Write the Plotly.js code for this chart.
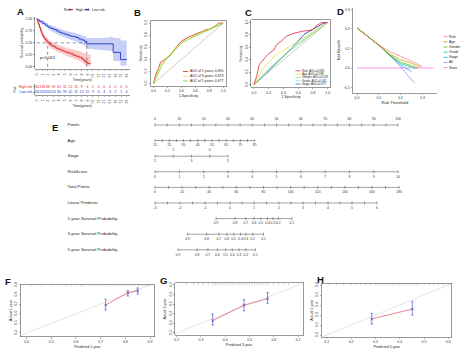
<!DOCTYPE html>
<html><head><meta charset="utf-8">
<script src="https://cdn.plot.ly/plotly-3.0.1.min.js"></script>
<style>html,body{margin:0;padding:0;background:#fff}#chart{width:474px;height:357px}</style>
</head><body><div id="chart"></div>
<script>
// ================= DATA =================
// Panel A: Kaplan-Meier
const kmTimeHigh  = [0,0.1,0.2,0.3,0.5,0.7,0.9,1.1,1.3,1.5,1.7,2.0,2.3,2.6,3.0,3.4,3.8,4.2,4.6,5.0,5.5,6.0,6.5,7.0,7.5,8.0,8.3,8.6,9.0,9.6];
const kmSurvHigh  = [1.00,0.97,0.93,0.89,0.82,0.75,0.69,0.64,0.60,0.57,0.54,0.50,0.47,0.44,0.42,0.39,0.37,0.35,0.33,0.31,0.29,0.27,0.24,0.22,0.20,0.17,0.14,0.10,0.07,0.07];
const kmUpperHigh = [1.00,0.99,0.96,0.93,0.87,0.81,0.75,0.70,0.67,0.64,0.61,0.57,0.54,0.51,0.49,0.47,0.45,0.44,0.42,0.40,0.38,0.37,0.35,0.34,0.32,0.30,0.28,0.26,0.25,0.25];
const kmLowerHigh = [1.00,0.95,0.90,0.85,0.77,0.70,0.63,0.58,0.54,0.50,0.47,0.43,0.40,0.37,0.35,0.32,0.30,0.28,0.26,0.23,0.21,0.19,0.16,0.14,0.12,0.09,0.06,0.03,0.02,0.02];
const kmTimeLow   = [0,0.2,0.5,1.0,1.5,2.0,2.5,3.0,3.5,4.0,4.5,5.0,5.5,6.0,6.5,7.0,7.5,8.0,8.5,8.9,10.0,11.0,12.0,13.0,13.6,14.9,16.0];
const kmSurvLow   = [1.00,0.98,0.95,0.91,0.87,0.83,0.80,0.78,0.75,0.72,0.70,0.68,0.66,0.64,0.63,0.61,0.58,0.56,0.53,0.48,0.48,0.48,0.48,0.48,0.30,0.15,0.15];
const kmUpperLow  = [1.00,0.99,0.98,0.95,0.92,0.88,0.86,0.84,0.81,0.79,0.77,0.75,0.73,0.72,0.71,0.69,0.67,0.65,0.63,0.60,0.60,0.60,0.61,0.63,0.60,0.55,0.55];
const kmLowerLow  = [1.00,0.96,0.92,0.87,0.82,0.78,0.74,0.71,0.68,0.65,0.63,0.60,0.58,0.56,0.54,0.52,0.49,0.46,0.43,0.37,0.36,0.35,0.34,0.33,0.12,0.02,0.02];
const medianHigh = 1.95, medianLow = 8.9;
const riskTimes = [0,1,2,3,4,5,6,7,8,9,10,11,12,13,14,15,16];
const riskHigh  = [245,138,88,59,41,31,22,15,9,4,1,0,0,0,0,0,0];
const riskLow   = [245,203,150,111,80,59,42,31,22,15,9,6,4,3,2,1,0];
const groupNames = ['High risk','Low risk'];

// Panel B: time-dependent ROC
const rocB = [
  {name:'AUC of 1 years: 0.690',
   fpr:[0,0.01,0.03,0.05,0.08,0.10,0.13,0.16,0.20,0.24,0.28,0.32,0.36,0.40,0.45,0.50,0.55,0.60,0.65,0.70,0.75,0.80,0.85,0.90,0.93,0.97,1],
   tpr:[0,0.06,0.14,0.20,0.27,0.35,0.38,0.40,0.43,0.47,0.53,0.60,0.65,0.70,0.74,0.77,0.79,0.82,0.84,0.86,0.89,0.90,0.93,0.96,1.00,1.00,1]},
  {name:'AUC of 3 years: 0.673',
   fpr:[0,0.02,0.05,0.08,0.12,0.16,0.20,0.25,0.30,0.35,0.40,0.45,0.50,0.60,0.70,0.80,0.90,0.95,1],
   tpr:[0,0.07,0.16,0.25,0.33,0.39,0.44,0.50,0.57,0.62,0.67,0.71,0.74,0.80,0.85,0.90,0.95,0.98,1]},
  {name:'AUC of 5 years: 0.677',
   fpr:[0,0.02,0.05,0.08,0.12,0.16,0.20,0.25,0.30,0.35,0.40,0.50,0.60,0.70,0.80,0.90,1],
   tpr:[0,0.05,0.14,0.22,0.30,0.37,0.42,0.49,0.56,0.62,0.67,0.73,0.79,0.84,0.89,0.95,1]}
];
const rocBColors = ['#E41A1C','#E8E23A','#66D93A'];

// Panel C: ROC of factors
const rocC = [
  {name:'Risk, AUC=0.690',
   fpr:[0,0.02,0.04,0.07,0.10,0.13,0.16,0.20,0.24,0.27,0.31,0.35,0.38,0.44,0.50,0.55,0.66,0.79,0.82,0.86,0.92,1],
   tpr:[0,0.06,0.15,0.32,0.37,0.40,0.45,0.50,0.53,0.56,0.65,0.68,0.71,0.78,0.81,0.83,0.86,0.88,0.92,0.96,1.00,1]},
  {name:'Age, AUC=0.598',
   fpr:[0,0.03,0.06,0.10,0.15,0.20,0.30,0.40,0.50,0.60,0.70,0.80,0.90,1],
   tpr:[0,0.07,0.14,0.22,0.30,0.37,0.48,0.56,0.63,0.70,0.78,0.85,0.93,1]},
  {name:'Gender, AUC=0.529', fpr:[0,0.47,1], tpr:[0,0.53,1]},
  {name:'Grade, AUC=0.541', fpr:[0,0.12,0.55,1], tpr:[0,0.17,0.63,1]},
  {name:'Stage, AUC=0.577', fpr:[0,0.25,0.50,0.68,0.93,1], tpr:[0,0.28,0.57,0.81,0.98,1]}
];
const rocCColors = ['#E4243B','#F0E04A','#8FDB4E','#7EE0DD','#3C5BD8'];

// Panel D: decision curve
const dcaNames  = ['Risk','Age','Gender','Grade','Stage','All','None'];
const dcaColors = ['#F8766D','#C49A00','#53B400','#00C094','#00B6EB','#8C7FEA','#FB61D7'];
const dcaThresh = [
  [0,0.05,0.10,0.15,0.20,0.25,0.30],
  [0,0.05,0.10,0.15,0.20,0.25,0.29],
  [0,0.05,0.10,0.15,0.20,0.25,0.28],
  [0,0.05,0.10,0.15,0.20,0.25,0.27],
  [0,0.05,0.10,0.15,0.20,0.25],
  [0,0.05,0.10,0.15,0.20,0.25,0.265],
  [0,0.35]
];
const dcaNetBenefit = [
  [0.205,0.163,0.118,0.085,0.062,0.035,0.007],
  [0.205,0.163,0.117,0.072,0.042,0.025,0.005],
  [0.205,0.163,0.117,0.067,0.030,0.012,0.000],
  [0.205,0.163,0.117,0.066,0.022,0.005,-0.002],
  [0.205,0.163,0.117,0.066,0.015,-0.018],
  [0.205,0.163,0.117,0.065,0.007,-0.060,-0.078],
  [0,0]
];

// Panel E: nomogram
const nomoRows = ['Points','Age','Stage','RiskScore','Total Points','Linear Predictor',
  '1-year Survival Probability','3-year Survival Probability','5-year Survival Probability'];
const pointsValues = [0,10,20,30,40,50,60,70,80,90,100];
const ageValues  = [15,25,35,45,55,65,75,85];
const agePoints  = [0,5.9,11.7,17.6,23.4,29.3,35.1,41.0];
const stageValues = [1,2,3,4,5];
const stagePoints = [0,7.5,15,22.5,30];
const riskScoreValues = [0,1,2,3,4,5,6,7,8,9,10];
const riskScorePoints = [0,10,20,30,40,50,60,70,80,90,100];
const totalPointsValues = [0,20,40,60,80,100,120,140,160,180];
const linPredValues = [-3,-2,-1,0,1,2,3,4,5,6];
const linPredTotal  = [0,18.4,36.9,55.3,73,91.4,109.1,127.6,145.3,163.7];
const survValues = [0.9,0.8,0.7,0.6,0.5,0.4,0.3,0.2,0.1];
const surv1Total = [45,59,67,73,78,83,87,91,101];
const surv3Total = [24,38,47,53,58,63,67,72,80];
const surv5Total = [17,31,39,46,52,57,62,67,74];
const totalMaxTP = 180, totalMaxPts = 100.4;

// Panels F-H: calibration
const calib = [
  {pred:[0.72,0.81,0.85], obs:[0.69,0.82,0.84], lo:[0.64,0.785,0.806], hi:[0.751,0.84,0.869],
   rug:[0.42,0.46,0.5,0.53,0.56,0.58,0.6,0.62,0.63,0.65,0.66,0.67,0.68,0.69,0.7,0.71,0.72,0.73,0.74,0.75,0.76,0.77,0.78,0.79,0.8,0.81,0.82,0.83,0.84,0.85,0.86,0.87,0.88,0.89,0.9],
   ticks:[0.4,0.5,0.6,0.7,0.8,0.9], yr:'1-year'},
  {pred:[0.348,0.477,0.574], obs:[0.328,0.49,0.556], lo:[0.283,0.43,0.51], hi:[0.398,0.546,0.62],
   rug:[0.24,0.27,0.29,0.31,0.33,0.35,0.36,0.37,0.38,0.39,0.4,0.41,0.42,0.43,0.44,0.45,0.46,0.47,0.48,0.49,0.5,0.51,0.52,0.53,0.54,0.55,0.56,0.57,0.58,0.6,0.62,0.64,0.66],
   ticks:[0.2,0.3,0.4,0.5,0.6,0.7], yr:'3-year'},
  {pred:[0.285,0.452], obs:[0.26,0.36], lo:[0.21,0.30], hi:[0.317,0.433],
   rug:[0.11,0.14,0.17,0.2,0.22,0.24,0.26,0.28,0.3,0.31,0.32,0.33,0.34,0.35,0.36,0.37,0.38,0.39,0.4,0.41,0.42,0.43,0.44,0.45,0.46,0.47,0.48,0.5,0.52,0.54,0.56,0.58,0.6],
   ticks:[0.1,0.2,0.3,0.4,0.5,0.6], yr:'5-year'}
];

// ================= LAYOUT HELPERS =================
const W = 474, H = 357;
const FONT = 'Liberation Sans, Arial, sans-serif';
const px = v => v / W;
const py = v => 1 - v / H;
const dx = (a, b) => [a / W, b / W];
const dy = (t, b) => [1 - b / H, 1 - t / H];
function ax(extra) {
  return Object.assign({
    showgrid:false, zeroline:false, showline:true, linecolor:'#333', linewidth:0.5,
    ticks:'outside', ticklen:1.5, tickwidth:0.4, tickcolor:'#333',
    tickfont:{size:3.5, color:'#333'}, fixedrange:true, automargin:false
  }, extra);
}
const ttl = (t, s) => ({text:t, font:{size:s || 3.6, color:'#222'}, standoff:1.5});

const traces = [];
const shapes = [];
const annotations = [];

// ---------- Panel A ----------
const red = '#E3161F', blue = '#2336C9';
function band(t, lo, hi, col, xa, ya) {
  traces.push({x:t, y:lo, xaxis:xa, yaxis:ya, mode:'lines', line:{width:0, shape:'hv'}, hoverinfo:'skip', showlegend:false});
  traces.push({x:t, y:hi, xaxis:xa, yaxis:ya, mode:'lines', line:{width:0, shape:'hv'}, fill:'tonexty', fillcolor:col, hoverinfo:'skip', showlegend:false});
}
band(kmTimeLow, kmLowerLow, kmUpperLow, 'rgba(110,130,235,0.38)', 'x', 'y');
band(kmTimeHigh, kmLowerHigh, kmUpperHigh, 'rgba(240,110,110,0.38)', 'x', 'y');
traces.push({x:[0, medianLow], y:[0.5, 0.5], xaxis:'x', yaxis:'y', mode:'lines', line:{color:'#222', width:0.5, dash:'dot'}, showlegend:false});
traces.push({x:[medianHigh, medianHigh], y:[0, 0.5], xaxis:'x', yaxis:'y', mode:'lines', line:{color:'#222', width:0.5, dash:'dot'}, showlegend:false});
traces.push({x:[medianLow, medianLow], y:[0, 0.5], xaxis:'x', yaxis:'y', mode:'lines', line:{color:'#222', width:0.5, dash:'dot'}, showlegend:false});
traces.push({x:kmTimeLow, y:kmSurvLow, xaxis:'x', yaxis:'y', mode:'lines', line:{color:blue, width:0.9, shape:'hv'}, showlegend:false});
traces.push({x:kmTimeHigh, y:kmSurvHigh, xaxis:'x', yaxis:'y', mode:'lines', line:{color:red, width:0.9, shape:'hv'}, showlegend:false});
annotations.push({xref:'x', yref:'y', x:0.3, y:0.2, text:'p<0.001', showarrow:false, xanchor:'left', yanchor:'middle', font:{size:4.2, color:'#222'}});
// risk table
traces.push({x:riskTimes, y:riskTimes.map(() => 1), text:riskHigh.map(String), mode:'text', xaxis:'x2', yaxis:'y2',
  textfont:{size:3.3, color:red}, textposition:'middle center', showlegend:false});
traces.push({x:riskTimes, y:riskTimes.map(() => 0), text:riskLow.map(String), mode:'text', xaxis:'x2', yaxis:'y2',
  textfont:{size:3.3, color:blue}, textposition:'middle center', showlegend:false});
// legend A
annotations.push({xref:'paper', yref:'paper', x:px(62), y:py(9.5), text:'Risk', showarrow:false, xanchor:'left', yanchor:'middle', font:{size:3.5, color:'#222'}});
[[red, groupNames[0], 69], [blue, groupNames[1], 85]].forEach(([c, t, x0]) => {
  shapes.push({type:'line', xref:'paper', yref:'paper', x0:px(x0), x1:px(x0 + 4), y0:py(9.5), y1:py(9.5), line:{color:c, width:1}});
  annotations.push({xref:'paper', yref:'paper', x:px(x0 + 4.5), y:py(9.5), text:t, showarrow:false, xanchor:'left', yanchor:'middle', font:{size:3.5, color:'#222'}});
});

// ---------- Panel B ----------
traces.push({x:[0, 1], y:[0, 1], xaxis:'x3', yaxis:'y3', mode:'lines', line:{color:'#9a9aa8', width:0.5}, showlegend:false});
rocB.forEach((r, i) => traces.push({x:r.fpr, y:r.tpr, xaxis:'x3', yaxis:'y3', mode:'lines', line:{color:rocBColors[i], width:0.8}, showlegend:false}));

// ---------- Panel C ----------
traces.push({x:[0, 1], y:[0, 1], xaxis:'x4', yaxis:'y4', mode:'lines', line:{color:'#9a9aa8', width:0.5}, showlegend:false});
rocC.slice().reverse().forEach((r, k) => {
  const i = rocC.length - 1 - k;
  traces.push({x:r.fpr, y:r.tpr, xaxis:'x4', yaxis:'y4', mode:'lines', line:{color:rocCColors[i], width: i === 4 ? 1.0 : 0.8}, showlegend:false});
});

// ---------- Panel D ----------
[6, 5, 4, 3, 2, 1, 0].forEach(i => traces.push({x:dcaThresh[i], y:dcaNetBenefit[i], xaxis:'x5', yaxis:'y5', mode:'lines',
  line:{color:dcaColors[i], width:0.7}, showlegend:false}));

// ---------- Panel E: nomogram ----------
const tpToPts = v => v * totalMaxPts / totalMaxTP;
const nomoInk = '#444';
function nomoRow(row, pos, labels, labelSide, minorPos) {
  const lo = Math.min(...pos), hi = Math.max(...pos);
  traces.push({x:[lo, hi], y:[row, row], xaxis:'x6', yaxis:'y6', mode:'lines', line:{color:nomoInk, width:0.5}, showlegend:false, hoverinfo:'skip'});
  const allTicks = pos.concat(minorPos || []);
  traces.push({x:allTicks, y:allTicks.map(() => row), xaxis:'x6', yaxis:'y6', mode:'markers',
    marker:{symbol:'line-ns-open', size:2.2, color:nomoInk, line:{color:nomoInk, width:0.5}}, showlegend:false, hoverinfo:'skip'});
  const ys = labels.map((_, k) => {
    const side = typeof labelSide === 'function' ? labelSide(k) : labelSide;
    return row + (side === 'top' ? -0.36 : 0.32);
  });
  traces.push({x:pos, y:ys, text:labels.map(String), xaxis:'x6', yaxis:'y6', mode:'text', textposition:'middle center',
    textfont:{size:3.4, color:'#333'}, showlegend:false, hoverinfo:'skip', cliponaxis:false});
}
const mids = arr => arr.slice(0, -1).map((v, k) => (v + arr[k + 1]) / 2);
nomoRow(0, pointsValues, pointsValues, 'top', mids(pointsValues));
nomoRow(1, agePoints, ageValues, 'bottom', mids(agePoints));
nomoRow(2, stagePoints, stageValues, k => (k % 2 ? 'top' : 'bottom'));
nomoRow(3, riskScorePoints, riskScoreValues, 'bottom');
nomoRow(4, totalPointsValues.map(tpToPts), totalPointsValues, 'bottom', mids(totalPointsValues.map(tpToPts)));
nomoRow(5, linPredTotal.map(tpToPts), linPredValues, 'bottom', mids(linPredTotal.map(tpToPts)));
nomoRow(6, surv1Total.map(tpToPts), survValues, 'bottom');
nomoRow(7, surv3Total.map(tpToPts), survValues, 'bottom');
nomoRow(8, surv5Total.map(tpToPts), survValues, 'bottom');
traces.push({x:nomoRows.map(() => -36), y:nomoRows.map((_, i) => i), text:nomoRows, xaxis:'x6', yaxis:'y6', mode:'text',
  textposition:'middle right', textfont:{size:4.3, color:'#222'}, showlegend:false, hoverinfo:'skip', cliponaxis:false});

// ---------- Panels F-H ----------
const calAxes = [['x7', 'y7'], ['x8', 'y8'], ['x9', 'y9']];
const calTop = [0.9, 0.71, 0.61];
const calBlue = '#3344CC';
calib.forEach((c, i) => {
  const [xa, ya] = calAxes[i];
  traces.push({x:[0, 1], y:[0, 1], xaxis:xa, yaxis:ya, mode:'lines', line:{color:'#d4d4d4', width:0.6}, showlegend:false});
  traces.push({x:c.rug, y:c.rug.map(() => calTop[i]), xaxis:xa, yaxis:ya, mode:'markers',
    marker:{symbol:'line-ns-open', size:2, color:'#9a9a9a', line:{color:'#9a9a9a', width:0.4}}, showlegend:false});
  traces.push({x:c.pred, y:c.obs, xaxis:xa, yaxis:ya, mode:'lines+markers',
    line:{color:'#E5505E', width:0.7},
    marker:{symbol:'x-thin-open', size:2.5, color:calBlue, line:{color:calBlue, width:0.6}},
    error_y:{type:'data', symmetric:false, array:c.hi.map((h, k) => h - c.obs[k]), arrayminus:c.obs.map((o, k) => o - c.lo[k]),
      color:calBlue, thickness:0.6, width:1.2},
    showlegend:false});
});

// ---------- Legends B, C, D ----------
function addLegend(names, colors, x0, y0, step, lineLen, size) {
  names.forEach((t, i) => {
    const y = y0 + i * step;
    shapes.push({type:'line', xref:'paper', yref:'paper', x0:px(x0), x1:px(x0 + lineLen), y0:py(y), y1:py(y), line:{color:colors[i], width:0.8}});
    annotations.push({xref:'paper', yref:'paper', x:px(x0 + lineLen + 0.8), y:py(y), text:t, showarrow:false,
      xanchor:'left', yanchor:'middle', font:{size:size, color:'#222'}, borderpad:0});
  });
}
addLegend(rocB.map(r => r.name), rocBColors, 183, 71.5, 4.7, 5, 3.4);
addLegend(rocC.map(r => r.name), rocCColors, 295.5, 70.8, 3.3, 5, 2.9);
addLegend(dcaNames, dcaColors, 443.5, 36.7, 5.15, 4, 3.4);

// ---------- Panel letters ----------
[['A', 20, 12], ['B', 137, 13], ['C', 248, 13], ['D', 340, 12], ['E', 55, 127], ['F', 8, 281], ['G', 163, 280], ['H', 320, 279]]
  .forEach(([t, x, y]) => annotations.push({xref:'paper', yref:'paper', x:px(x), y:py(y), text:'<b>' + t + '</b>', showarrow:false,
    xanchor:'center', yanchor:'middle', font:{size:9.5, color:'#111', family:FONT}}));

// ================= LAYOUT =================
const boxAx = extra => ax(Object.assign({mirror:true}, extra));
const layout = {
  width:W, height:H, margin:{l:0, r:0, t:0, b:0}, paper_bgcolor:'#fff', plot_bgcolor:'rgba(0,0,0,0)',
  font:{family:FONT, size:4, color:'#222'}, showlegend:false,
  xaxis:ax({domain:dx(35, 129.5), range:[-0.3, 16.5], anchor:'y', tickvals:riskTimes, title:ttl('Time(years)')}),
  yaxis:ax({domain:dy(16.6, 69.1), range:[-0.05, 1.05], anchor:'x', tickvals:[0, 0.25, 0.5, 0.75, 1], tickformat:'.2f', title:ttl('Survival probability')}),
  xaxis2:ax({domain:dx(35, 129.5), range:[-0.3, 16.5], anchor:'y2', tickvals:riskTimes, title:ttl('Time(years)')}),
  yaxis2:ax({domain:dy(84, 95), range:[-0.5, 1.5], anchor:'x2', tickvals:[0, 1],
    ticktext:['<span style="color:' + blue + '">' + groupNames[1] + '</span>', '<span style="color:' + red + '">' + groupNames[0] + '</span>'],
    title:ttl('Risk', 3)}),
  xaxis3:boxAx({domain:dx(150.7, 226), range:[-0.04, 1.04], anchor:'y3', tickvals:[0, 0.2, 0.4, 0.6, 0.8, 1], tickformat:'.1f', title:ttl('1-Specificity')}),
  yaxis3:boxAx({domain:dy(20.7, 86), range:[-0.04, 1.04], anchor:'x3', tickvals:[0, 0.2, 0.4, 0.6, 0.8, 1], tickformat:'.1f', tickangle:-90, title:ttl('Sensitivity')}),
  xaxis4:boxAx({domain:dx(251, 330.7), range:[-0.04, 1.04], anchor:'y4', tickvals:[0, 0.2, 0.4, 0.6, 0.8, 1], tickformat:'.1f', title:ttl('1-Specificity')}),
  yaxis4:boxAx({domain:dy(20, 87.3), range:[-0.04, 1.04], anchor:'x4', tickvals:[0, 0.2, 0.4, 0.6, 0.8, 1], tickformat:'.1f', tickangle:-90, title:ttl('Sensitivity')}),
  xaxis5:ax({domain:dx(352.7, 437), range:[-0.02, 0.367], anchor:'y5', tickvals:[0, 0.1, 0.2, 0.3], tickformat:'.1f', title:ttl('Risk Threshold', 4)}),
  yaxis5:ax({domain:dy(7.5, 93), range:[-0.128, 0.31], anchor:'x5', tickvals:[-0.1, 0, 0.1, 0.2, 0.3], tickformat:'.1f', title:ttl('Net Benefit', 4)}),
  xaxis6:{domain:dx(60, 410), range:[-39.1, 104.9], anchor:'y6', visible:false, fixedrange:true},
  yaxis6:{domain:dy(110, 262), range:[8.78, -0.96], anchor:'x6', visible:false, fixedrange:true},
  xaxis7:boxAx({domain:dx(20.7, 154), range:[0.376, 0.916], anchor:'y7', tickvals:calib[0].ticks, tickformat:'.1f', title:ttl('Predicted 1-year')}),
  yaxis7:boxAx({domain:dy(284.7, 336.7), range:[0.361, 0.903], anchor:'x7', tickvals:calib[0].ticks, tickformat:'.1f', tickangle:-90, title:ttl('Actual 1-year')}),
  xaxis8:boxAx({domain:dx(175, 303), range:[0.193, 0.72], anchor:'y8', tickvals:calib[1].ticks, tickformat:'.1f', title:ttl('Predicted 3-year')}),
  yaxis8:boxAx({domain:dy(283, 335), range:[0.179, 0.72], anchor:'x8', tickvals:calib[1].ticks, tickformat:'.1f', tickangle:-90, title:ttl('Actual 3-year')}),
  xaxis9:boxAx({domain:dx(321.7, 451.7), range:[0.079, 0.614], anchor:'y9', tickvals:calib[2].ticks, tickformat:'.1f', title:ttl('Predicted 5-year')}),
  yaxis9:boxAx({domain:dy(283.3, 337), range:[0.08, 0.617], anchor:'x9', tickvals:calib[2].ticks, tickformat:'.1f', tickangle:-90, title:ttl('Actual 5-year')}),
  shapes:shapes, annotations:annotations
};
Plotly.newPlot('chart', traces, layout, {staticPlot:true, displayModeBar:false});
</script>
</body></html>
